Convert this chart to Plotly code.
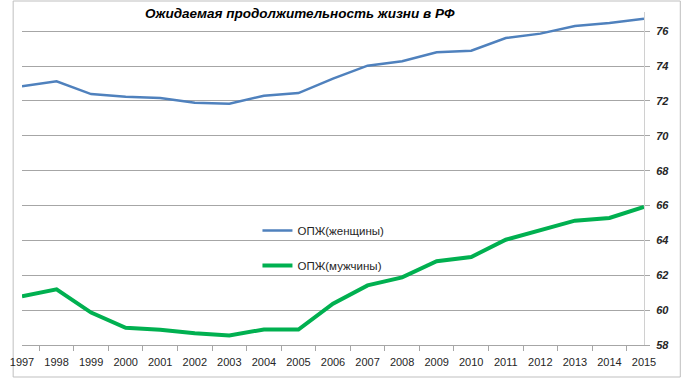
import plotly.graph_objects as go

years = [str(y) for y in range(1997, 2016)]
women = [72.84, 73.13, 72.39, 72.24, 72.17, 71.90, 71.84, 72.30, 72.45, 73.28, 74.02, 74.28, 74.79, 74.88, 75.61, 75.86, 76.30, 76.47, 76.71]
men = [60.80, 61.19, 59.86, 58.99, 58.88, 58.68, 58.55, 58.89, 58.89, 60.37, 61.42, 61.88, 62.80, 63.05, 64.04, 64.56, 65.13, 65.29, 65.92]
name_w = "ОПЖ(женщины)"
name_m = "ОПЖ(мужчины)"
title = "Ожидаемая продолжительность жизни в РФ"
yticks = [58, 60, 62, 64, 66, 68, 70, 72, 74, 76]

W, H = 682, 378
L, R, T, B = 10, 38, 12, 33
pw, ph = W - L - R, H - T - B

fig = go.Figure()
fig.add_trace(go.Scatter(x=years, y=women, mode="lines", name=name_w,
                         line=dict(color="#4F81BD", width=2.5), legendgroup="w"))
fig.add_trace(go.Scatter(x=years, y=men, mode="lines", name=name_m,
                         line=dict(color="#00B050", width=4), legendgroup="m"))

font_fam = "Liberation Sans Narrow, Arial Narrow, Liberation Sans, Arial"
fig.update_layout(
    width=W, height=H, margin=dict(l=L, r=R, t=T, b=B),
    paper_bgcolor="white", plot_bgcolor="white",
    font=dict(family=font_fam, color="#262626", size=11),
    showlegend=True,
    legend=dict(x=(250 - L) / pw, y=(345 - 216) / ph, xanchor="left", yanchor="top",
                bgcolor="rgba(0,0,0,0)", tracegroupgap=16, itemwidth=30,
                font=dict(size=11.5, family=font_fam, color="#262626")),
    xaxis=dict(type="category", showgrid=False, ticks="outside", tickson="boundaries",
               ticklen=5, tickcolor="#A6A6A6", showline=True, linecolor="#A6A6A6",
               ticklabelstandoff=7,
               tickfont=dict(size=11, family=font_fam, color="#262626"), fixedrange=True),
    yaxis=dict(side="right", range=[58, 77.1], tickvals=yticks, showgrid=True,
               gridcolor="#A6A6A6", gridwidth=1, showline=True, linecolor="#D0D0D0",
               zeroline=False, ticks="outside", ticklen=5, tickcolor="#A6A6A6",
               ticklabelstandoff=4, fixedrange=True,
               tickfont=dict(size=11, family=font_fam, color="#262626", weight="bold", style="italic")),
    annotations=[dict(text=title, xref="paper", yref="paper",
                      x=(293 - L) / pw, y=(H - B - 14) / ph, xanchor="center", yanchor="middle",
                      showarrow=False,
                      font=dict(size=13.5, family=font_fam, color="#000000", weight="bold", style="italic"))],
    shapes=[dict(type="rect", xref="paper", yref="paper",
                 x0=(1 - L) / pw, x1=(W - 1 - L) / pw,
                 y0=-(B - 1) / ph, y1=(H - B - 1) / ph,
                 line=dict(color="#BFBFBF", width=1), fillcolor="rgba(0,0,0,0)", layer="below")],
)
fig.write_html("out.html", config={"displayModeBar": False},
               post_script="document.body.style.margin='0';document.body.style.overflow='hidden';")
